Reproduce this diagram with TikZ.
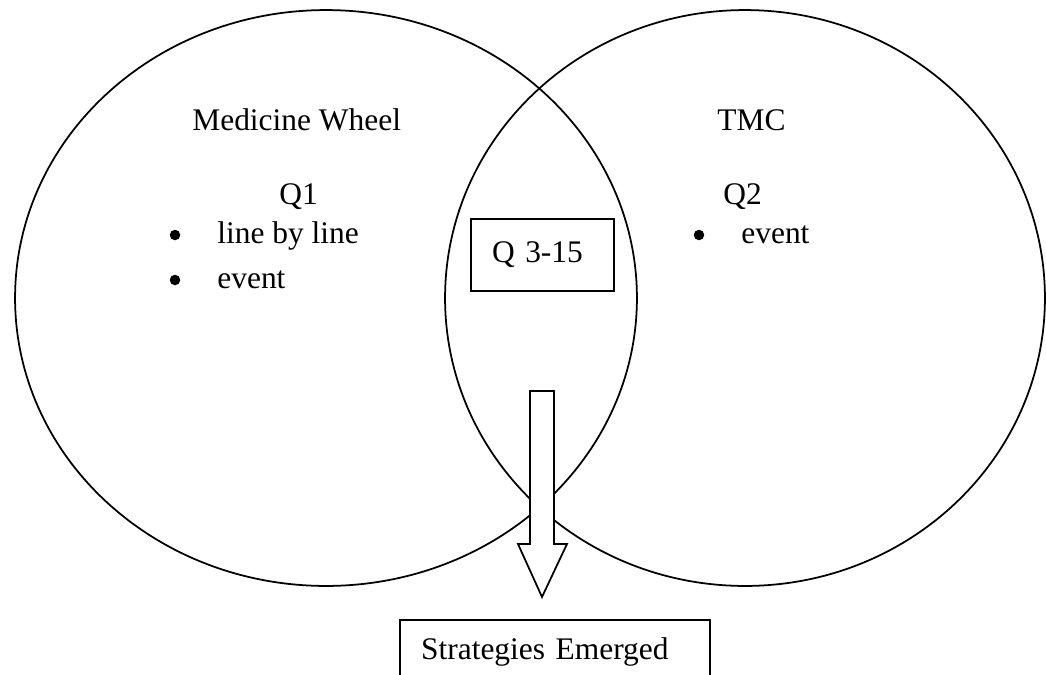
\documentclass[tikz,border=0pt]{standalone}
\usepackage{fontspec}
\setmainfont{Liberation Serif}
\usepackage{tikz}
\usetikzlibrary{positioning,shapes.geometric}

\begin{document}
\begin{tikzpicture}[
  x=0.02cm, y=-0.02cm,
  ring/.style={draw, ellipse, line width=1pt, inner sep=0pt, outer sep=0pt, minimum height=11.52cm},
  lbl/.style={font=\fontsize{17.9}{21}\selectfont, inner sep=0pt, anchor=base west},
  dot/.style={circle, fill, inner sep=0pt, minimum size=0.21cm},
  box/.style={draw, line width=1.25pt, font=\fontsize{17.9}{21}\selectfont, align=left, anchor=north west},
  blockarr/.style={draw, fill=white, line width=1pt, line join=miter},
]
\clip (0,0) rectangle (1046,674);
\useasboundingbox (0,0) rectangle (1046,674);
\node[ring, minimum width=12.44cm] (left) at (326,298) {};
\node[ring, minimum width=12cm] (right) at (745,298) {};
\node[lbl] (mw) at (192,130) {Medicine Wheel};
\node[lbl] (tmc) at (717,130) {TMC};
\node[lbl] (q1) at (279,204) {Q1};
\node[lbl] (q2) at (723,204) {Q2};
\node[dot] (b1) at (175,235) {};
\node[dot] (b2) at (175,280) {};
\node[dot] (b3) at (699,235) {};
\node[lbl] (lbl) at (217,243) {line by line};
\node[lbl] (ev1) at (217,288) {event};
\node[lbl] (ev2) at (741,243) {event};
\node[box, text width=2.02cm, inner xsep=0.42cm, minimum height=1.44cm] (mid) at (470,218) {Q 3-15};
\node[box, text width=5.36cm, inner xsep=0.42cm, inner ysep=0.35cm] (strat) at (399,619) {Strategies Emerged};
\coordinate (arrtop) at (542,391);
\draw[blockarr] (arrtop) ++(-12,0) -- ++(24,0) -- ++(0,153) -- ++(13,0) -- ++(-25,53) -- ++(-24,-53) -- ++(12,0) -- cycle;
\end{tikzpicture}
\end{document}
